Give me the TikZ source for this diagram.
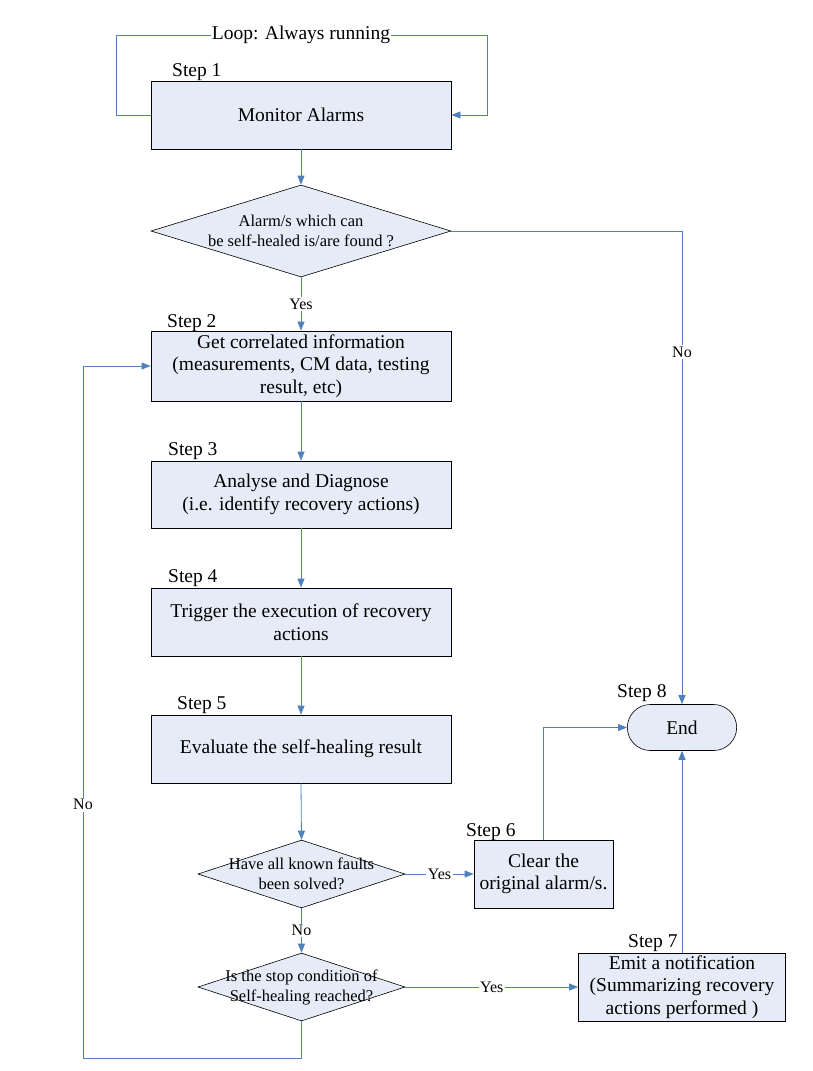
\documentclass[tikz,border=0pt]{standalone}
\usepackage{fontspec}
\setmainfont{Liberation Serif}
\usetikzlibrary{shapes.geometric,shapes.misc,arrows.meta}
\definecolor{boxfill}{HTML}{E6ECF7}
\definecolor{linkblue}{HTML}{4F81BD}
\begin{document}
\begin{tikzpicture}[x=1pt,y=-1pt,
  box/.style={draw=black, fill=boxfill, line width=0.8pt, minimum width=300pt, minimum height=68pt, align=center, font=\fontsize{19.5}{22.5}\selectfont, inner sep=0pt},
  dia/.style={draw=black, fill=boxfill, diamond, line width=0.6pt, inner sep=0pt, minimum width=207pt, minimum height=68pt},
  dtext/.style={align=center, font=\fontsize{16.5}{20}\selectfont, inner sep=0pt},
  steplbl/.style={anchor=base west, font=\fontsize{19.5}{22}\selectfont, inner sep=0pt},
  lbl/.style={fill=white, inner sep=1.5pt, font=\fontsize{16}{18}\selectfont},
  link/.style={draw=linkblue, line width=0.8pt},
  arr/.style={link, -{Triangle[length=9pt,width=7pt]}},
]
\useasboundingbox[fill=white] (0,0) rectangle (812,1071);

% nodes
\node[box] (b1) at (301,115) {Monitor Alarms};
\node[steplbl] (s1) at (172,76) {Step 1};
\node[dia, minimum width=300pt, minimum height=92pt] (d1) at (301,231) {};
\node[dtext] (d1t) at (301,231) {Alarm/s which can\\be self-healed is/are found ?};
\node[box, minimum height=70pt] (b2) at (301,366) {Get correlated information\\(measurements, CM data, testing\\result, etc)};
\node[steplbl] (s2) at (167,327) {Step 2};
\node[box, minimum height=67pt] (b3) at (301,494.5) {Analyse and Diagnose\\(i.e. identify recovery actions)};
\node[steplbl] (s3) at (168,455) {Step 3};
\node[box] (b4) at (301,622) {Trigger the execution of recovery\\actions};
\node[steplbl] (s4) at (168,582) {Step 4};
\node[box] (b5) at (301,749) {Evaluate the self-healing result};
\node[steplbl] (s5) at (177,709) {Step 5};
\node[dia] (d2) at (301.5,874) {};
\node[dtext] (d2t) at (301.5,874) {Have all known faults\\been solved?};
\node[box, minimum width=139pt] (b6) at (543.5,874) {Clear the\\original alarm/s.};
\node[steplbl] (s6) at (466,836) {Step 6};
\node[dia] (d3) at (301.5,987) {};
\node[dtext] (d3t) at (301.5,987) {Is the stop condition of\\Self-healing reached?};
\node[box, minimum width=207pt] (b7) at (682,987) {Emit a notification\\(Summarizing recovery\\actions performed )};
\node[steplbl] (s7) at (628,947) {Step 7};
\node[draw=black, fill=boxfill, rounded rectangle, line width=0.6pt, minimum width=116pt, minimum height=46pt, font=\fontsize{19.5}{22}\selectfont] (end) at (682,727.5) {End};
\node[steplbl] (s8) at (617,697) {Step 8};

% loop
\node[font=\fontsize{19.5}{22}\selectfont, inner sep=1pt] (loop) at (301,35) {Loop: Always running};
\coordinate (ltl) at (116,35);
\coordinate (ltr) at (487,35);
\draw[link] (loop.west) -- (ltl) |- (b1.west);
\draw[arr] (loop.east) -- (ltr) |- (b1.east);

% connectors
\draw[arr] (b1.south) -- (d1.north);
\draw[arr] (d1.south) -- node[lbl]{Yes} (b2.north);
\draw[arr] (d1.east) -| node[lbl, pos=0.628]{No} (end.north);
\draw[arr] (b2.south) -- (b3.north);
\draw[arr] (b3.south) -- (b4.north);
\draw[arr] (b4.south) -- (b5.north);
\draw[arr] (b5.south) -- (d2.north);
\draw[arr] (d2.east) -- node[lbl]{Yes} (b6.west);
\draw[arr] (d2.south) -- node[lbl]{No} (d3.north);
\draw[arr] (d3.east) -- node[lbl]{Yes} (b7.west);
\draw[arr] (b6.north) |- (end.west);
\draw[arr] (b7.north) -- (end.south);
\coordinate (lb) at (83,1058);
\coordinate (lt) at (83,366);
\draw[arr] (d3.south) |- (lb) -- node[lbl, pos=0.366]{No} (lt) -- (b2.west);
\end{tikzpicture}
\end{document}
